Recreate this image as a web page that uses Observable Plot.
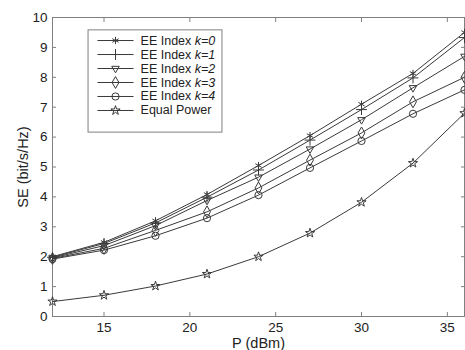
<!DOCTYPE html>
<html>
<head>
<meta charset="utf-8">
<script src="https://cdn.jsdelivr.net/npm/d3@7"></script>
<script src="https://cdn.jsdelivr.net/npm/@observablehq/plot@0.6"></script>
<style>
html, body { margin: 0; padding: 0; background: #fff; }
#chart svg { display: block; }
</style>
</head>
<body>
<div id="chart"></div>
<script>
// ---- data ----
const P = [12, 15, 18, 21, 24, 27, 30, 33, 36];
const seK0 = [2.00, 2.48, 3.20, 4.08, 5.05, 6.05, 7.10, 8.13, 9.50];
const seK1 = [1.98, 2.44, 3.13, 3.99, 4.90, 5.90, 6.92, 7.98, 9.33];
const seK2 = [1.96, 2.37, 3.04, 3.88, 4.66, 5.60, 6.58, 7.65, 8.70];
const seK3 = [1.94, 2.28, 2.88, 3.50, 4.30, 5.23, 6.14, 7.18, 8.00];
const seK4 = [1.92, 2.22, 2.70, 3.29, 4.06, 4.97, 5.87, 6.78, 7.58];
const seEq = [0.50, 0.71, 1.02, 1.42, 2.00, 2.79, 3.82, 5.13, 6.80];

const seriesNames = ["EE Index k=0", "EE Index k=1", "EE Index k=2", "EE Index k=3", "EE Index k=4", "Equal Power"];
const seriesValues = [seK0, seK1, seK2, seK3, seK4, seEq];
const seriesSymbols = ["asterisk", "plus", "triangle2", "diamond", "circle", "star"];
const seriesRotate = [0, 0, 180, 0, 0, 0];
const seriesR = [3.4, 3.6, 3.6, 3.6, 3.6, 2.9];

const xTicks = [15, 20, 25, 30, 35];
const yTicks = [0, 1, 2, 3, 4, 5, 6, 7, 8, 9, 10];

// ---- table ----
const rows = [];
seriesNames.forEach((name, s) => {
  P.forEach((p, i) => rows.push({series: name, s, P: p, SE: seriesValues[s][i]}));
});

// legend layout (in data units of the axes)
const legX1 = 14.10, legX2 = 21.90, legY1 = 6.15, legY2 = 9.57;
const legTop = 9.23, legStep = 0.468;
const legend = seriesNames.map((name, s) => ({
  name, s, y: legTop - s * legStep, lx1: 14.62, lx2: 16.72, mx: 15.67, tx: 17.13
}));

const lineColor = "#3a3a3a";
const axisColor = "#808080";

const marks = [
  Plot.frame({stroke: axisColor, strokeWidth: 1}),
  // inward ticks on all four sides
  Plot.axisX(xTicks, {anchor: "bottom", tickSize: -4, stroke: axisColor, tickFormat: () => "", label: null}),
  Plot.axisX(xTicks, {anchor: "top", tickSize: -4, stroke: axisColor, tickFormat: () => "", label: null}),
  Plot.axisY(yTicks, {anchor: "left", tickSize: -4, stroke: axisColor, tickFormat: () => "", label: null}),
  Plot.axisY(yTicks, {anchor: "right", tickSize: -4, stroke: axisColor, tickFormat: () => "", label: null}),
  // tick labels + axis titles
  Plot.axisX(xTicks, {anchor: "bottom", tickSize: 0, tickPadding: 6, fontSize: 13.5, fill: "#222",
    label: "P (dBm)", labelAnchor: "center", labelArrow: "none", labelOffset: 31}),
  Plot.axisY(yTicks, {anchor: "left", tickSize: 0, tickPadding: 5, fontSize: 13.5, fill: "#222",
    label: "SE (bit/s/Hz)", labelAnchor: "center", labelArrow: "none", labelOffset: 35}),
];

seriesNames.forEach((name, s) => {
  const data = rows.filter(d => d.s === s);
  marks.push(Plot.line(data, {x: "P", y: "SE", stroke: lineColor, strokeWidth: 1, curve: "linear"}));
  marks.push(Plot.dot(data, {x: "P", y: "SE", symbol: () => seriesSymbols[s], r: seriesR[s],
    stroke: lineColor, strokeWidth: 1, fill: s === 0 ? lineColor : "none", rotate: seriesRotate[s]}));
});

// legend
marks.push(Plot.rect([{}], {x1: () => legX1, x2: () => legX2, y1: () => legY1, y2: () => legY2,
  fill: "white", stroke: axisColor, strokeWidth: 1}));
marks.push(Plot.link(legend, {x1: "lx1", x2: "lx2", y1: "y", y2: "y", stroke: lineColor, strokeWidth: 1}));
legend.forEach(d => {
  marks.push(Plot.dot([d], {x: "mx", y: "y", symbol: () => seriesSymbols[d.s], r: seriesR[d.s],
    stroke: lineColor, strokeWidth: 1, fill: d.s === 0 ? lineColor : "none", rotate: seriesRotate[d.s]}));
});
marks.push(Plot.text(legend, {x: "tx", y: "y", text: "name", textAnchor: "start", fontSize: 12.5,
  fill: "#222", className: "legtext"}));

const chart = Plot.plot({
  width: 465,
  height: 350,
  marginLeft: 52,
  marginRight: 1,
  marginTop: 17,
  marginBottom: 34,
  style: {fontFamily: "'Liberation Sans', Arial, Helvetica, sans-serif", background: "#fff", color: "#222"},
  x: {domain: [12, 36], axis: null},
  y: {domain: [0, 10], axis: null},
  marks
});

// axis titles a bit larger
d3.select(chart).selectAll("g[aria-label='x-axis label'] text, g[aria-label='y-axis label'] text")
  .attr("font-size", 14.5);

// italic "k=N" in the legend
d3.select(chart).selectAll(".legtext text").each(function() {
  const t = this.textContent;
  const m = t.match(/^(.*?)(k=\d+)$/);
  if (m) {
    const sel = d3.select(this);
    sel.text(null);
    sel.append("tspan").text(m[1]);
    sel.append("tspan").attr("font-style", "italic").text(m[2]);
  }
});

document.getElementById("chart").appendChild(chart);
</script>
</body>
</html>
